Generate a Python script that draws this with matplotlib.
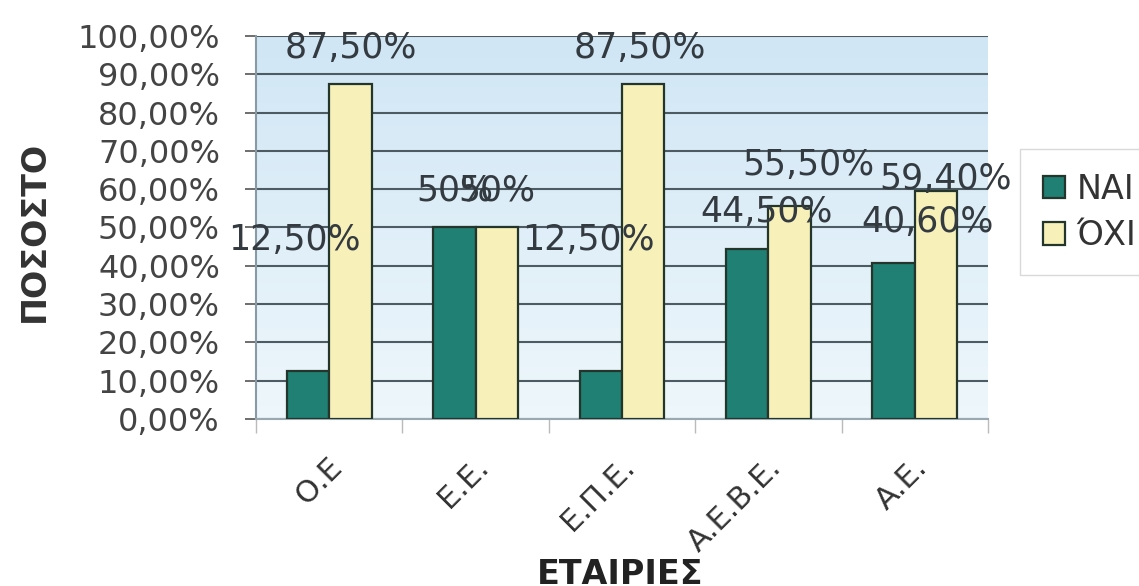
import numpy as np
import matplotlib
matplotlib.use("Agg")
import matplotlib.pyplot as plt
from matplotlib.ticker import FuncFormatter, FixedLocator
from matplotlib.transforms import ScaledTranslation

plt.rcParams['font.family'] = ['DejaVu Sans']

# data
categories = ["Ο.Ε", "Ε.Ε.", "Ε.Π.Ε.", "Α.Ε.Β.Ε.", "Α.Ε."]
nai = [0.125, 0.50, 0.125, 0.445, 0.406]
oxi = [0.875, 0.50, 0.875, 0.555, 0.594]
nai_labels = ["12,50%", "50%", "12,50%", "44,50%", "40,60%"]
oxi_labels = ["87,50%", "50%", "87,50%", "55,50%", "59,40%"]
series_names = ["NAI", "ΌΧΙ"]

# where excel left the data labels (pixels from bar top centre)
nai_nudge = [(-14, 131), (0, 37), (-12, 131), (19, 37), (34, 41)]
oxi_nudge = [(0, 36), (0, 37), (-3, 36), (19, 41), (10, 12)]

teal = "#1f8073"
cream = "#f7f0b8"
grid_col = "#4d5b63"
text_col = "#333a40"

fig = plt.figure(figsize=(11.39, 5.86), dpi=100)
ax = fig.add_axes([0.2248, 0.285, 0.6426, 0.6536])

# light blue gradient behind plot area
grad = np.linspace(0, 1, 256).reshape(-1, 1)
cmap = matplotlib.colors.LinearSegmentedColormap.from_list("bg", ["#eef7fb", "#d0e6f5"])
ax.imshow(grad, aspect="auto", cmap=cmap, origin="lower",
          extent=[-0.5, 4.5, 0, 1.0], zorder=0)

x = np.arange(len(categories))
w = 0.29
b1 = ax.bar(x - w / 2, nai, w, color=teal, edgecolor="#24352c", linewidth=1.6,
            label=series_names[0], zorder=3)
b2 = ax.bar(x + w / 2, oxi, w, color=cream, edgecolor="#24352c", linewidth=1.6,
            label=series_names[1], zorder=3)

for bars, labels, nudges in [(b1, nai_labels, nai_nudge), (b2, oxi_labels, oxi_nudge)]:
    for bar, lab, (dx, dy) in zip(bars, labels, nudges):
        ax.annotate(lab, (bar.get_x() + bar.get_width() / 2, bar.get_height()),
                    xytext=(dx, dy), textcoords="offset pixels",
                    ha="center", va="center", fontsize=25, color=text_col, zorder=5)

ax.set_xlim(-0.5, 4.5)
ax.set_ylim(0, 1.0)
ax.set_yticks(np.arange(0, 1.01, 0.1))
ax.yaxis.set_major_formatter(FuncFormatter(lambda v, p: f"{v * 100:.2f}%".replace(".", ",")))
ax.tick_params(axis="y", labelsize=23, colors="#555", labelcolor="#444",
               length=8, width=1.2, pad=18)
ax.yaxis.grid(True, color=grid_col, linewidth=1.5, zorder=1)
ax.set_axisbelow(True)

ax.set_xticks(x)
ax.set_xticklabels(categories, rotation=45, ha="right", rotation_mode="anchor",
                   fontsize=22, color="#333")
ax.tick_params(axis="x", length=0, pad=24)
ax.xaxis.set_minor_locator(FixedLocator(np.arange(-0.5, 4.6, 1)))
ax.tick_params(axis="x", which="minor", length=10, color="#bbb", width=1)
shift = ScaledTranslation(-2 / 100, 0, fig.dpi_scale_trans)
for lab in ax.get_xticklabels():
    lab.set_transform(lab.get_transform() + shift)

for side in ["top", "right"]:
    ax.spines[side].set_visible(False)
ax.spines["left"].set_color("#8a9aa4")
ax.spines["left"].set_linewidth(1.5)
ax.spines["bottom"].set_color("#9aa8b0")
ax.spines["bottom"].set_linewidth(1.5)

ax.set_ylabel("ΠΟΣΟΣΤΟ", fontsize=24, fontweight="bold", color="#333")
ax.set_xlabel("ΕΤΑΙΡΙΕΣ", fontsize=24, fontweight="bold", color="#222")
ax.xaxis.set_label_coords(0.497, -0.362)
ax.yaxis.set_label_coords(-0.28, 0.49)

leg = fig.legend(loc="upper left", bbox_to_anchor=(0.8955, 0.745), fontsize=24,
                 frameon=True, fancybox=False, edgecolor="#d0d0d0",
                 handlelength=0.65, handleheight=0.65, handletextpad=0.35,
                 borderpad=0.7, labelspacing=0.4, borderaxespad=0)
for t in leg.get_texts():
    t.set_color("#333")

fig.savefig("out.png", dpi=100)
